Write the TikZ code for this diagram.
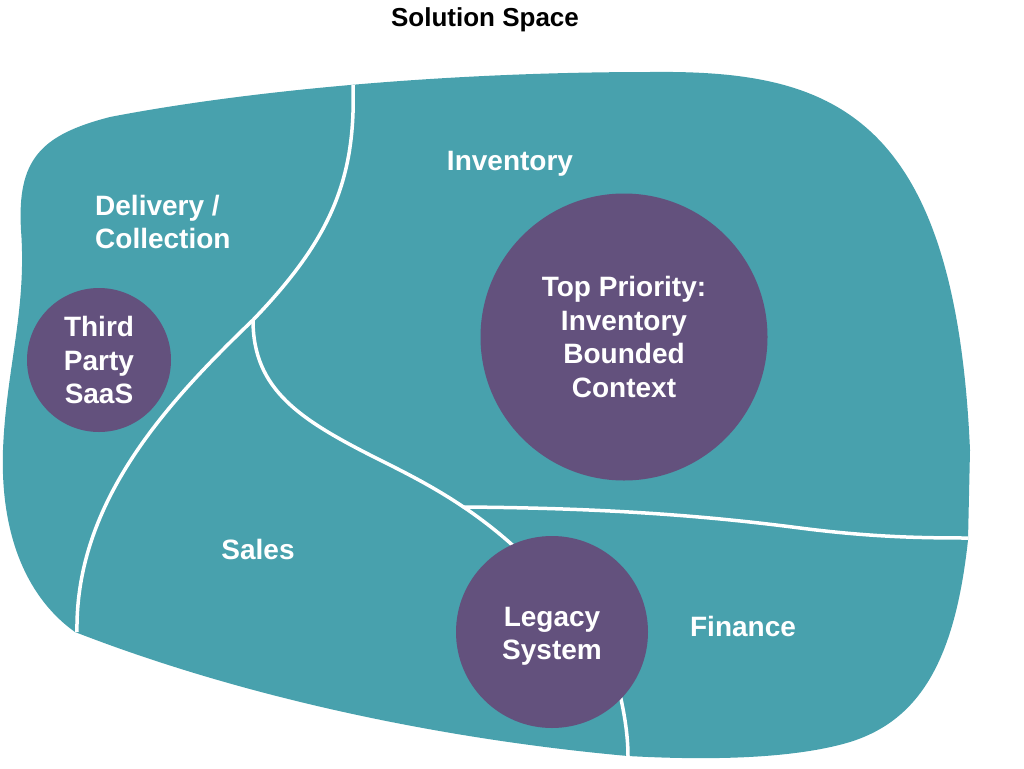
\documentclass[tikz,border=0pt]{standalone}
\usepackage{fontspec}
\setmainfont{Liberation Sans}
\definecolor{teal}{RGB}{72,161,173}
\definecolor{plum}{RGB}{99,81,125}
\begin{document}
\begin{tikzpicture}[x=1pt,y=-1pt,
  region/.style={fill=teal,draw=none},
  divider/.style={draw=white,line width=3.5pt},
  ctx/.style={circle,fill=plum,inner sep=0pt,text=white,align=center,
    font=\bfseries\fontsize{28}{33.5}\selectfont},
  lbl/.style={text=white,font=\bfseries\fontsize{28}{33.5}\selectfont,inner sep=0pt}]
\useasboundingbox (0,0) rectangle (1024,768);
% blob
\path[region] (75,632) .. controls (30,600) and (0,540) .. (3,450)
  .. controls (6,370) and (27,310) .. (21,230)
  .. controls (17,160) and (40,135) .. (110,117)
  .. controls (250,90) and (450,72) .. (650,72)
  .. controls (830,70) and (955,110) .. (970,450)
  -- (968,540)
  .. controls (955,660) and (920,720) .. (850,742)
  .. controls (790,760) and (700,760) .. (628,756)
  .. controls (450,740) and (250,700) .. (75,632) -- cycle;
% dividers
\coordinate (top) at (353,85);
\coordinate (fork) at (253,320);
\coordinate (bl) at (77,632);
\coordinate (hj) at (463,507);
\coordinate (re) at (968,538);
\draw[divider] (top) .. controls (356,180) and (330,240) .. (fork)
  .. controls (170,400) and (75,500) .. (bl);
\draw[divider] (fork) .. controls (253,390) and (300,420) .. (380,460)
  .. controls (420,480) and (470,505) .. (520,552);
\draw[divider] (hj) .. controls (600,508) and (700,515) .. (800,528)
  .. controls (870,537) and (920,538) .. (re);
\draw[divider] (619,690) .. controls (626,720) and (628,740) .. (628,757);
% circles
\node[ctx,minimum size=144pt] (saas) at (99,360) {Third\\Party\\SaaS};
\node[ctx,minimum size=287pt] (inv) at (624,337) {Top Priority:\\Inventory\\Bounded\\Context};
\node[ctx,minimum size=192pt] (legacy) at (552,632) {\rule{0pt}{28pt}Legacy\\System};
% labels
\node[font=\bfseries\fontsize{26}{30}\selectfont] (title) at (485,20) {Solution Space};
\node[lbl] (linv) at (510,164) {Inventory};
\node[lbl,anchor=west,align=left] (ldel) at (95,222) {Delivery /\\Collection};
\node[lbl] (lsales) at (258,549) {Sales};
\node[lbl] (lfin) at (743,626) {Finance};
\end{tikzpicture}
\end{document}
